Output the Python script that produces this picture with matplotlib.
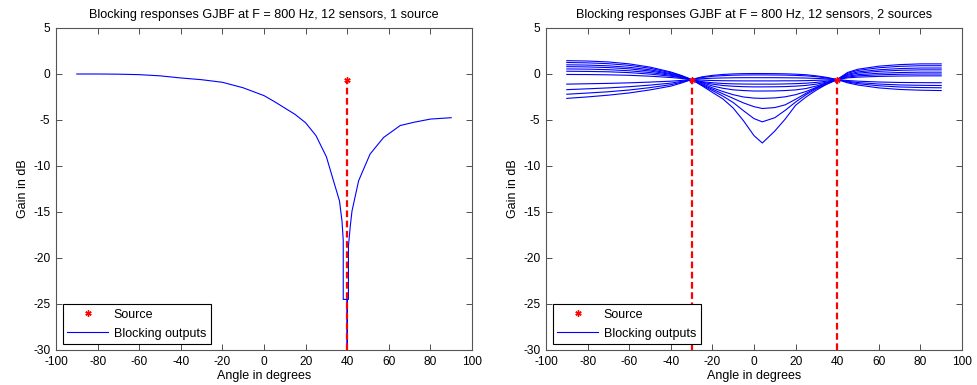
import matplotlib
matplotlib.use('Agg')
import matplotlib.pyplot as plt
import numpy as np

plt.rcParams['font.family'] = ['Liberation Sans', 'DejaVu Sans']
plt.rcParams['font.size'] = 9
plt.rcParams['axes.unicode_minus'] = False

# one source, single blocking output
angles_1src = [-90, -80, -70, -60, -50, -40, -30, -20, -10, 0, 5, 10, 15, 20, 25, 30,
               33.4, 36.3, 37.5, 38.1, 38.1, 39.9, 40, 40.1, 40.6, 40.6, 41.5,
               42.3, 45.5, 51, 57.5, 65.5, 72, 80, 90]
gain_1src = [0, 0, -0.02, -0.07, -0.2, -0.43, -0.62, -0.9, -1.5, -2.35, -3.0, -3.7, -4.4,
             -5.3, -6.7, -9.0, -11.6, -13.8, -16.0, -18.1, -24.5, -24.5, -60, -24.5,
             -24.5, -18.7, -16.5, -14.9, -11.6, -8.7, -6.9, -5.6, -5.25, -4.9, -4.75]
sources_1 = [40]

# two sources, 11 blocking outputs
angles_2src = [-90, -80, -70, -60, -50, -40, -35, -30, -25, -20, -15, -10, -5, 0, 4,
               10, 15, 20, 25, 30, 35, 40, 45, 50, 60, 70, 80, 90]
gain_2src = [
    [1.45, 1.41, 1.31, 1.10, 0.75, 0.22, -0.15, -0.6, -0.31, -0.15, -0.05, 0.01, 0.04, 0.05,
     0.05, 0.04, 0.02, -0.02, -0.08, -0.20, -0.37, -0.6, 0.17, 0.52, 0.85, 1.02, 1.10, 1.10],
    [1.25, 1.21, 1.12, 0.94, 0.62, 0.14, -0.19, -0.6, -0.38, -0.25, -0.18, -0.13, -0.11, -0.10,
     -0.10, -0.11, -0.12, -0.15, -0.20, -0.29, -0.43, -0.6, 0.08, 0.39, 0.68, 0.83, 0.90, 0.90],
    [1.00, 0.97, 0.89, 0.73, 0.46, 0.04, -0.25, -0.6, -0.51, -0.46, -0.43, -0.41, -0.40, -0.40,
     -0.40, -0.40, -0.41, -0.42, -0.44, -0.48, -0.53, -0.6, -0.04, 0.23, 0.46, 0.59, 0.65, 0.65],
    [0.80, 0.77, 0.70, 0.56, 0.32, -0.04, -0.29, -0.6, -0.67, -0.71, -0.73, -0.74, -0.75, -0.75,
     -0.75, -0.75, -0.74, -0.74, -0.72, -0.69, -0.65, -0.6, -0.13, 0.09, 0.29, 0.40, 0.45, 0.45],
    [0.55, 0.53, 0.47, 0.35, 0.16, -0.14, -0.35, -0.6, -0.83, -0.95, -1.03, -1.07, -1.09, -1.10,
     -1.10, -1.10, -1.08, -1.05, -1.00, -0.91, -0.78, -0.6, -0.24, -0.07, 0.08, 0.16, 0.20, 0.20],
    [0.30, 0.28, 0.24, 0.15, -0.01, -0.24, -0.40, -0.6, -0.90, -1.10, -1.25, -1.33, -1.38, -1.40,
     -1.40, -1.39, -1.37, -1.32, -1.24, -1.10, -0.88, -0.6, -0.33, -0.20, -0.09, -0.03, 0.00, 0.00],
    [-0.05, -0.06, -0.09, -0.14, -0.24, -0.38, -0.48, -0.6, -0.95, -1.30, -1.55, -1.72, -1.80, -1.85,
     -1.85, -1.84, -1.80, -1.73, -1.58, -1.30, -0.95, -0.6, -0.42, -0.34, -0.26, -0.22, -0.20, -0.20],
    [-1.10, -1.06, -1.02, -0.96, -0.88, -0.78, -0.70, -0.6, -1.05, -1.50, -1.90, -2.25, -2.50, -2.62,
     -2.65, -2.60, -2.48, -2.25, -1.90, -1.45, -1.00, -0.6, -0.71, -0.78, -0.87, -0.92, -0.94, -0.95],
    [-1.70, -1.61, -1.51, -1.38, -1.21, -0.99, -0.81, -0.6, -1.15, -1.65, -2.15, -2.65, -3.15, -3.55,
     -3.75, -3.65, -3.35, -2.75, -2.10, -1.50, -1.00, -0.6, -0.80, -0.93, -1.09, -1.19, -1.23, -1.25],
    [-2.20, -2.07, -1.93, -1.74, -1.48, -1.16, -0.90, -0.6, -1.22, -1.80, -2.40, -3.10, -4.00, -4.85,
     -5.20, -4.75, -3.95, -3.05, -2.25, -1.60, -1.10, -0.6, -0.87, -1.05, -1.28, -1.41, -1.47, -1.50],
    [-2.65, -2.49, -2.30, -2.06, -1.73, -1.32, -0.99, -0.6, -1.28, -2.00, -2.70, -3.70, -5.10, -6.70,
     -7.50, -6.20, -4.90, -3.40, -2.50, -1.75, -1.10, -0.6, -0.96, -1.20, -1.51, -1.68, -1.76, -1.80],
]
sources_2 = [-30, 40]
source_gain = -0.6

titles = ['Blocking responses GJBF at F = 800 Hz, 12 sensors, 1 source',
          'Blocking responses GJBF at F = 800 Hz, 12 sensors, 2 sources']

W, H = 977, 385
fig = plt.figure(figsize=(W / 100, H / 100), dpi=100)
ax1 = fig.add_axes([56 / W, 35 / H, 416 / W, 322 / H])
ax2 = fig.add_axes([546 / W, 35 / H, 416 / W, 322 / H])

blue = '#0000ff'
red = '#ff0000'
star = (6, 2, 0)


def draw_sources(ax, srcs):
    for s in srcs:
        ax.plot([s, s], [-30, source_gain], color=red, ls=(0, (3, 1.6)), lw=1.6, zorder=4)
    h, = ax.plot(srcs, [source_gain] * len(srcs), ls='none', marker=star, ms=4.5,
                 mec=red, mew=1.0, zorder=5)
    return h


def style(ax, title):
    ax.set_xlim(-100, 100)
    ax.set_ylim(-30, 5)
    ax.set_xticks(np.arange(-100, 101, 20))
    ax.set_yticks(np.arange(-30, 6, 5))
    ax.tick_params(direction='in', top=True, right=True, length=4, width=0.6,
                   labelsize=8.6, color='#333333')
    ax.tick_params(axis='x', pad=4)
    ax.tick_params(axis='y', pad=4)
    for sp in ax.spines.values():
        sp.set_color('#555555')
        sp.set_linewidth(0.8)
    ax.set_title(title, fontsize=9.1, pad=7)
    ax.set_xlabel('Angle in degrees', labelpad=2)
    ax.set_ylabel('Gain in dB', labelpad=3)


# left panel
hb, = ax1.plot(angles_1src, gain_1src, color=blue, lw=0.8, zorder=3)
hs = draw_sources(ax1, sources_1)
style(ax1, titles[0])

# right panel
for g in gain_2src:
    hb2, = ax2.plot(angles_2src, g, color=blue, lw=0.8, zorder=3)
hs2 = draw_sources(ax2, sources_2)
style(ax2, titles[1])

for ax, a, b in [(ax1, hs, hb), (ax2, hs2, hb2)]:
    leg = ax.legend([a, b], ['Source', 'Blocking outputs'], loc='lower left',
                    bbox_to_anchor=(0.016, 0.0186), borderaxespad=0, fancybox=False,
                    edgecolor='black', framealpha=1, fontsize=9, handlelength=3.3,
                    handletextpad=0.45, borderpad=0.35, labelspacing=0.55)
    leg.get_frame().set_linewidth(0.8)

fig.savefig('out.png', dpi=100)
